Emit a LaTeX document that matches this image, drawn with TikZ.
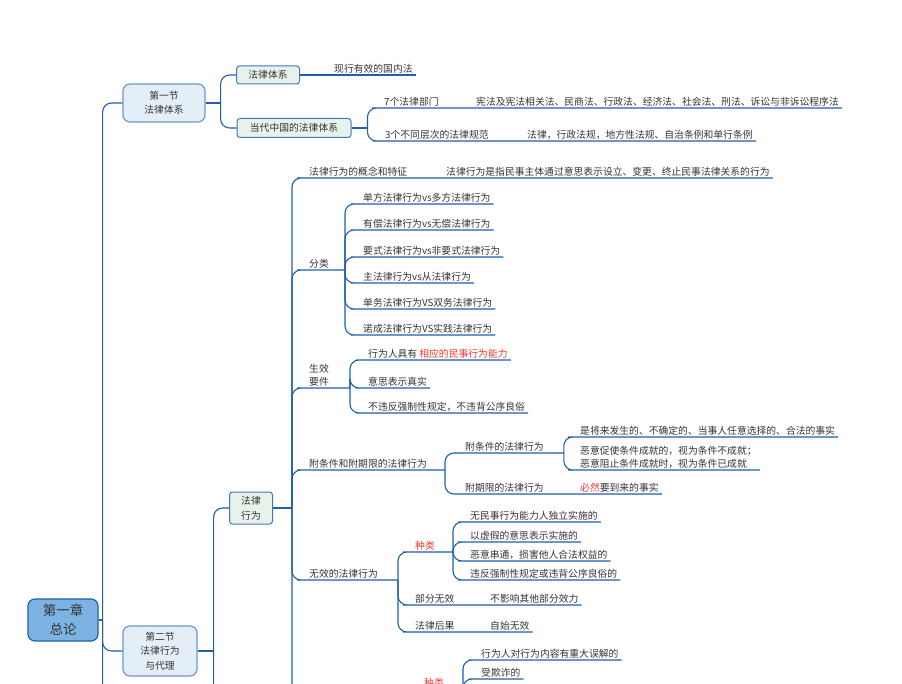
\documentclass[tikz,border=0pt]{standalone}
\usepackage{fontspec}
\setmainfont{Noto Sans CJK SC}
\usetikzlibrary{positioning,calc}
\definecolor{lnk}{HTML}{1F5FAE}
\definecolor{rootfill}{HTML}{7DB3E3}
\definecolor{secfill}{HTML}{E3EEF7}
\definecolor{topfill}{HTML}{E7F2EB}
\definecolor{txt}{HTML}{333333}
\definecolor{hot}{HTML}{F2382C}

\begin{document}
\begin{tikzpicture}[x=1pt,y=-1pt,
    every node/.style={text=txt,font=\fontsize{9.8}{13}\selectfont},
    link/.style={draw=lnk,line width=1.1pt,rounded corners=9pt},
    rootbox/.style={draw=lnk,fill=rootfill,line width=1.2pt,rounded corners=7pt,align=center,
      minimum width=70pt,minimum height=42pt,font=\fontsize{13.5}{19}\selectfont},
    secbox/.style={draw=lnk!65,fill=secfill,line width=1.2pt,rounded corners=7pt,align=center,
      font=\fontsize{9.8}{14.5}\selectfont},
    topicbox/.style={draw=lnk!85,fill=topfill,line width=1pt,rounded corners=3pt,align=center,
      inner sep=0pt,font=\fontsize{9.8}{15}\selectfont},
    leaf/.style={anchor=south west,align=left,inner xsep=3pt,inner ysep=1.5pt},
    hotleaf/.style={leaf,text=hot}]
    \useasboundingbox (0,0) rectangle (902,684);
    \clip (0,0) rectangle (902,684);

    % Chapter and sections
    \node[rootbox] (ch1) at (63,620) {第一章\\总论};
    \node[secbox,minimum width=82pt,minimum height=38pt] (sec1) at (164,103) {第一节\\法律体系};
    \node[secbox,minimum width=74pt,minimum height=50pt] (sec2) at (160,651) {第二节\\法律行为\\与代理};
    \draw[link] (ch1.east) -- ++(4,0) coordinate (j0);
    \draw[link] (j0) |- (sec1.west);
    \draw[link] (j0) |- (sec2.west);
    \coordinate (more0) at (123,760);
    \draw[link] (j0) |- (more0);

    % Section 1
    \node[topicbox,minimum width=63pt,minimum height=18pt] (ftx) at (268,75) {法律体系};
    \node[topicbox,minimum width=114pt,minimum height=19pt] (ddzg) at (294,128) {当代中国的法律体系};
    \draw[link] (sec1.east) -- ++(15,0) coordinate (j1);
    \draw[link] (j1) |- (ftx.west);
    \draw[link] (j1) |- (ddzg.west);
    \node[leaf] (xxyx) at (331,75) {现行有效的国内法};
    \draw[link] (ftx.east) -- (xxyx.south west) -- (xxyx.south east);
    \draw[link] (ddzg.east) -- ++(16,0) coordinate (jdd);
    \node[leaf] (bm7) at (381,108) {7个法律部门};
    \node[leaf] (bm7a) at (473,108) {宪法及宪法相关法、民商法、行政法、经济法、社会法、刑法、诉讼与非诉讼程序法};
    \node[leaf] (gf3) at (382,141) {3个不同层次的法律规范};
    \node[leaf] (gf3a) at (524,141) {法律，行政法规，地方性法规、自治条例和单行条例};
    \draw[link] (jdd) |- (bm7.south west) -- (bm7.south east) -- (bm7a.south west) -- (bm7a.south east);
    \draw[link] (jdd) |- (gf3.south west) -- (gf3.south east) -- (gf3a.south west) -- (gf3a.south east);

    % Section 2
    \node[topicbox,minimum width=43pt,minimum height=32pt] (flxw) at (251,508) {法律\\行为};
    \draw[link] (sec2.east) -- ++(16,0) coordinate (j2);
    \draw[link] (j2) |- (flxw.west);
    \coordinate (more2) at (230,760);
    \draw[link] (j2) |- (more2);
    \draw[link] (flxw.east) -- ++(19,0) coordinate (j3);

    % concept
    \node[leaf] (gn) at (306,178) {法律行为的概念和特征};
    \node[leaf] (gna) at (443,178) {法律行为是指民事主体通过意思表示设立、变更、终止民事法律关系的行为};
    \draw[link] (j3) |- (gn.south west) -- (gn.south east) -- (gna.south west) -- (gna.south east);

    % classes
    \node[leaf] (fenlei) at (306,270) {分类};
    \draw[link] (j3) |- (fenlei.south west) -- (fenlei.south east) -- ++(13,0) coordinate (jfl);
    \node[leaf] (fl1) at (360,204) {单方法律行为vs多方法律行为};
    \node[leaf] (fl2) at (360,230) {有偿法律行为vs无偿法律行为};
    \node[leaf] (fl3) at (360,257) {要式法律行为vs非要式法律行为};
    \node[leaf] (fl4) at (360,283) {主法律行为vs从法律行为};
    \node[leaf] (fl5) at (360,309) {单务法律行为VS双务法律行为};
    \node[leaf] (fl6) at (360,335) {诺成法律行为VS实践法律行为};
    \foreach \k in {fl1,fl2,fl3,fl4,fl5,fl6}
      \draw[link] (jfl) |- (\k.south west) -- (\k.south east);

    % validity
    \node[leaf] (sx) at (306,388) {生效\\要件};
    \draw[link] (j3) |- (sx.south west) -- (sx.south east) -- ++(18,0) coordinate (jsx);
    \node[leaf] (sx1) at (365,360) {行为人具有 {\color{hot}相应的民事行为能力}};
    \node[leaf] (sx2) at (365,388) {意思表示真实};
    \node[leaf] (sx3) at (365,413) {不违反强制性规定，不违背公序良俗};
    \foreach \k in {sx1,sx2,sx3}
      \draw[link] (jsx) |- (\k.south west) -- (\k.south east);

    % conditions and terms
    \node[leaf] (fj) at (306,470) {附条件和附期限的法律行为};
    \draw[link] (j3) |- (fj.south west) -- (fj.south east) -- ++(15,0) coordinate (jfj);
    \node[leaf] (ftj) at (462,453) {附条件的法律行为};
    \node[leaf] (fqx) at (462,494) {附期限的法律行为};
    \draw[link] (jfj) |- (ftj.south west) -- (ftj.south east) -- ++(17,0) coordinate (jtj);
    \node[leaf] (ftj1) at (577,437) {是将来发生的、不确定的、当事人任意选择的、合法的事实};
    \node[leaf] (ftj2) at (577,470) {恶意促使条件成就的，视为条件不成就；\\恶意阻止条件成就时，视为条件已成就};
    \draw[link] (jtj) |- (ftj1.south west) -- (ftj1.south east);
    \draw[link] (jtj) |- (ftj2.south west) -- (ftj2.south east);
    \node[leaf] (fqx1) at (577,494) {{\color{hot}必然}要到来的事实};
    \draw[link] (jfj) |- (fqx.south west) -- (fqx.south east) -- (fqx1.south west) -- (fqx1.south east);

    % void acts
    \node[leaf] (wx) at (306,580) {无效的法律行为};
    \draw[link] (j3) |- (wx.south west) -- (wx.south east) -- ++(17,0) coordinate (jwx);
    \node[hotleaf] (zl) at (412,552) {种类};
    \draw[link] (jwx) |- (zl.south west) -- (zl.south east) -- ++(15,0) coordinate (jzl);
    \node[leaf] (zl1) at (467,522) {无民事行为能力人独立实施的};
    \node[leaf] (zl2) at (467,542) {以虚假的意思表示实施的};
    \node[leaf] (zl3) at (467,561) {恶意串通，损害他人合法权益的};
    \node[leaf] (zl4) at (467,580) {违反强制性规定或违背公序良俗的};
    \foreach \k in {zl1,zl2,zl3,zl4}
      \draw[link] (jzl) |- (\k.south west) -- (\k.south east);
    \node[leaf] (bf) at (412,605) {部分无效};
    \node[leaf] (bf1) at (487,605) {不影响其他部分效力};
    \draw[link] (jwx) |- (bf.south west) -- (bf.south east) -- (bf1.south west) -- (bf1.south east);
    \node[leaf] (hg) at (412,632) {法律后果};
    \node[leaf] (hg1) at (487,632) {自始无效};
    \draw[link] (jwx) |- (hg.south west) -- (hg.south east) -- (hg1.south west) -- (hg1.south east);

    % next act, cut at the bottom
    \coordinate (more3) at (306,760);
    \draw[link] (j3) |- (more3);
    \coordinate (jnx) at (407,740);
    \node[hotleaf] (zlb) at (421,689) {种类};
    \draw[link] (jnx) |- (zlb.south west) -- (zlb.south east) -- ++(16,0) coordinate (jzb);
    \node[leaf] (zb1) at (478,660) {行为人对行为内容有重大误解的};
    \node[leaf] (zb2) at (478,679) {受欺诈的};
    \draw[link] (jzb) |- (zb1.south west) -- (zb1.south east);
    \draw[link] (jzb) |- (zb2.south west) -- (zb2.south east);
    \coordinate (more4) at (478,760);
    \draw[link] (jzb) |- (more4);
\end{tikzpicture}
\end{document}
